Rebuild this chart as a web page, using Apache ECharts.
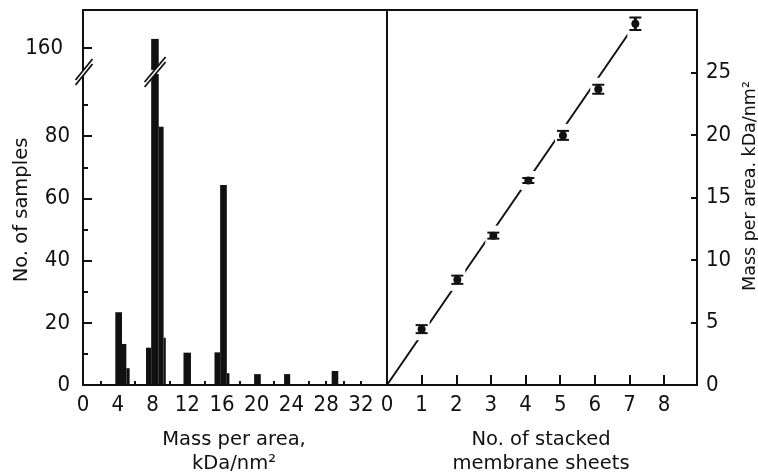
<!DOCTYPE html>
<html>
<head>
<meta charset="utf-8">
<script src="https://cdn.jsdelivr.net/npm/echarts@6/dist/echarts.min.js"></script>
<style>html,body{margin:0;background:#fff}#main{width:758px;height:475px}</style>
</head>
<body>
<div id="main"></div>
<script>
// histogram: bin start, bin end (kDa/nm2), no. of samples
var binStart = [3.72, 4.49, 4.99, 7.25, 7.85, 8.72, 9.28, 11.57, 15.14, 15.79, 16.56, 19.70, 23.15, 28.63];
var binEnd   = [4.49, 4.99, 5.37, 7.85, 8.72, 9.28, 9.53, 12.43, 15.79, 16.56, 16.86, 20.47, 23.85, 29.39];
var binCount = [23.4, 13.2, 5.4, 12, 163, 83, 15.2, 10.4, 10.5, 64.3, 3.8, 3.5, 3.5, 4.5];
var massLabels = [0, 4, 8, 12, 16, 20, 24, 28, 32];
var massTicks = [2, 4, 6, 8, 10, 12, 14, 16, 18, 20, 22, 26, 28, 30, 32];
var countLabels = [0, 20, 40, 60, 80];
var countMinor = [10, 30, 50, 70, 90];
var countUpper = [160];

// mass per area vs no. of stacked sheets
var sheets    = [1.0, 2.03, 3.07, 4.08, 5.08, 6.1, 7.17];
var sheetMass = [4.47, 8.42, 11.95, 16.36, 19.97, 23.66, 28.9];
var sheetErr  = [0.32, 0.33, 0.24, 0.2, 0.36, 0.36, 0.5];
var fitX = [0, 7.17];
var fitY = [0, 28.9];
var sheetLabels = [0, 1, 2, 3, 4, 5, 6, 7, 8];
var sheetTicks = [1, 2, 3, 4, 5, 6, 7, 8];
var areaLabels = [0, 5, 10, 15, 20, 25];
var areaTicks = [5, 10, 15, 20, 25];

var ink = '#111';
var numFont = "'DejaVu Sans Condensed','Liberation Sans Narrow',sans-serif";
var txtFont = "'DejaVu Sans',sans-serif";

var chart = echarts.init(document.getElementById('main'));

var bins = binStart.map(function (s, i) { return [s, binEnd[i], binCount[i]]; });
var points = sheets.map(function (s, i) { return [s, sheetMass[i], sheetErr[i]]; });
var fit = fitX.map(function (x, i) { return [x, fitY[i]]; });

function renderBin(params, api) {
    var p0 = api.coord([api.value(0), api.value(2)]);
    var p1 = api.coord([api.value(1), 0]);
    var cs = params.coordSys;
    var r = echarts.graphic.clipRectByRect(
        {x: p0[0], y: p0[1], width: p1[0] - p0[0], height: p1[1] - p0[1]},
        {x: cs.x, y: cs.y, width: cs.width, height: cs.height});
    if (!r) return;
    return {type: 'rect', shape: r, style: {fill: ink}};
}

function renderPoint(params, api) {
    var x = api.value(0), y = api.value(1), e = api.value(2);
    var c = api.coord([x, y]);
    var hi = api.coord([x, y + e]);
    var lo = api.coord([x, y - e]);
    var cs = params.coordSys;
    // white gap in the fit line around each point, kept inside the frame
    var gap = echarts.graphic.clipRectByRect(
        {x: c[0] - 8, y: hi[1] - 7, width: 16, height: lo[1] - hi[1] + 14},
        {x: cs.x, y: cs.y + 2, width: cs.width, height: cs.height - 4});
    return {
        type: 'group',
        children: [
            {type: 'rect', shape: gap, style: {fill: '#fff'}},
            {type: 'line', shape: {x1: c[0], y1: hi[1], x2: c[0], y2: lo[1]}, style: {stroke: ink, lineWidth: 3}},
            {type: 'line', shape: {x1: c[0] - 6, y1: hi[1], x2: c[0] + 6, y2: hi[1]}, style: {stroke: ink, lineWidth: 2}},
            {type: 'line', shape: {x1: c[0] - 6, y1: lo[1], x2: c[0] + 6, y2: lo[1]}, style: {stroke: ink, lineWidth: 2}},
            {type: 'circle', shape: {cx: c[0], cy: c[1], r: 4}, style: {fill: ink}}
        ]
    };
}

var axisLine = {show: true, onZero: false, lineStyle: {color: ink, width: 2}};
var numLabel = {color: ink, fontSize: 22, fontFamily: numFont};

option = {
    animation: false,
    backgroundColor: '#fff',
    grid: [
        {left: 83, right: 371, top: 74, bottom: 90},
        {left: 83, right: 371, top: 10, height: 60},
        {left: 387, right: 61, top: 10, bottom: 90, show: true, borderColor: ink, borderWidth: 2}
    ],
    xAxis: [
        {gridIndex: 0, type: 'value', min: 0, max: 35, position: 'bottom', axisLine: axisLine,
            axisTick: {inside: true, length: 4, customValues: massTicks, lineStyle: {color: ink, width: 2}},
            axisLabel: Object.assign({customValues: massLabels, margin: 9}, numLabel),
            splitLine: {show: false}},
        {gridIndex: 1, type: 'value', min: 0, max: 35, position: 'top', axisLine: axisLine,
            axisTick: {show: false}, axisLabel: {show: false}, splitLine: {show: false}},
        {gridIndex: 2, type: 'value', min: 0, max: 8.95, position: 'bottom', axisLine: axisLine,
            axisTick: {inside: true, length: 10, customValues: sheetTicks, lineStyle: {color: ink, width: 2}},
            axisLabel: Object.assign({customValues: sheetLabels, margin: 9}, numLabel),
            splitLine: {show: false}}
    ],
    yAxis: [
        {gridIndex: 0, type: 'value', min: 0, max: 100, position: 'left', axisLine: axisLine,
            axisTick: {inside: true, length: 9, customValues: countLabels, lineStyle: {color: ink, width: 2}},
            axisLabel: Object.assign({customValues: countLabels, margin: 13}, numLabel),
            splitLine: {show: false}},
        {gridIndex: 1, type: 'value', min: 153, max: 172.3, position: 'left', axisLine: axisLine,
            axisTick: {inside: true, length: 9, customValues: countUpper, lineStyle: {color: ink, width: 2}},
            axisLabel: Object.assign({customValues: countUpper, margin: 20}, numLabel),
            splitLine: {show: false}},
        {gridIndex: 0, type: 'value', min: 0, max: 100, position: 'left', axisLine: {show: false},
            axisTick: {inside: true, length: 5, customValues: countMinor, lineStyle: {color: ink, width: 2}},
            axisLabel: {show: false}, splitLine: {show: false}},
        {gridIndex: 2, type: 'value', min: 0, max: 30, position: 'right', axisLine: axisLine,
            axisTick: {inside: true, length: 6, customValues: areaTicks, lineStyle: {color: ink, width: 2}},
            axisLabel: Object.assign({customValues: areaLabels, margin: 9}, numLabel),
            splitLine: {show: false}}
    ],
    series: [
        {type: 'custom', xAxisIndex: 0, yAxisIndex: 0, renderItem: renderBin, data: bins, encode: {x: [0, 1], y: 2}},
        {type: 'custom', xAxisIndex: 1, yAxisIndex: 1, renderItem: renderBin, data: bins, encode: {x: [0, 1], y: 2}},
        {type: 'line', xAxisIndex: 2, yAxisIndex: 3, data: fit, symbol: 'none', z: 2,
            lineStyle: {color: ink, width: 2}},
        {type: 'custom', xAxisIndex: 2, yAxisIndex: 3, renderItem: renderPoint, data: points, z: 3,
            encode: {x: 0, y: 1}}
    ]
};
chart.setOption(option);

// break marks "//" on the count axis and on the tall bar
function breakMark(cx, cy, hw, hh) {
    var g = 2.5;
    var line = function (d) {
        return {type: 'line', shape: {x1: cx - hw, y1: cy + hh + d, x2: cx + hw, y2: cy - hh + d},
            style: {stroke: ink, lineWidth: 1.8}, z: 100};
    };
    return [
        {type: 'polygon', shape: {points: [[cx - hw, cy + hh - g], [cx + hw, cy - hh - g], [cx + hw, cy - hh + g], [cx - hw, cy + hh + g]]},
            style: {fill: '#fff'}, z: 99},
        line(-g), line(g)
    ];
}
var pa = chart.convertToPixel({gridIndex: 0}, [0, 100]);
var pb = chart.convertToPixel({gridIndex: 0}, [8.3, 100]);
var title = {fill: ink, fontSize: 19.5, fontFamily: txtFont, textAlign: 'center', textVerticalAlign: 'middle', lineHeight: 24};
var graphics = breakMark(pa[0] + 1, pa[1] - 2, 8.5, 10.5).concat(breakMark(pb[0], pb[1] - 2, 10.5, 12.5));
graphics.push(
    {type: 'text', x: 234, y: 452, style: Object.assign({text: 'Mass per area,\nkDa/nm²'}, title)},
    {type: 'text', x: 541, y: 452, style: Object.assign({text: 'No. of stacked\nmembrane sheets'}, title)},
    {type: 'text', x: 22, y: 210, rotation: Math.PI / 2, style: Object.assign({text: 'No. of samples'}, title)},
    {type: 'text', x: 750, y: 186, rotation: Math.PI / 2, style: Object.assign({text: 'Mass per area. kDa/nm²'}, title, {fontSize: 17.5})}
);
chart.setOption({graphic: graphics});
</script>
</body>
</html>
